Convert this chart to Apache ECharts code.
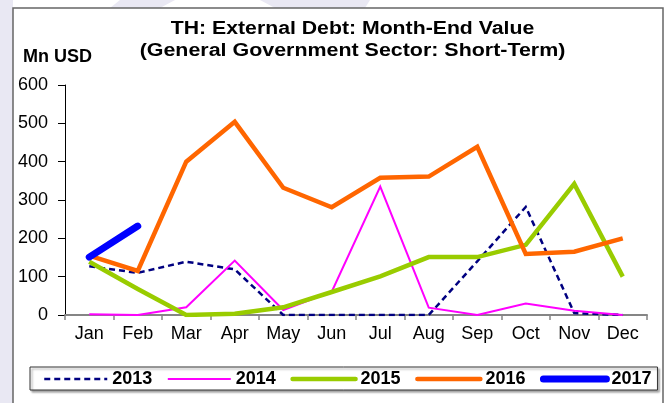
<!DOCTYPE html>
<html>
<head>
<meta charset="utf-8">
<script src="https://cdn.jsdelivr.net/npm/echarts@6/dist/echarts.min.js"></script>
<style>html,body{margin:0;padding:0;background:#fff;}#c{width:669px;height:403px;}</style>
</head>
<body>
<div id="c"></div>
<script>
const months = ['Jan','Feb','Mar','Apr','May','Jun','Jul','Aug','Sep','Oct','Nov','Dec'];
const s2013 = [127, 110, 139, 119, 0, 0, 0, 0, 140, 282, 5, 0];
const s2014 = [2, 0, 20, 142, 13, 61, 335, 19, 0, 30, 11, 0];
const s2015 = [139, 68, 0, 3, 20, 60, 101, 151, 151, 183, 342, 100];
const s2016 = [155, 115, 400, 504, 332, 281, 358, 361, 439, 159, 165, 200];
const s2017 = [151, 232];
const yTicks = [0, 100, 200, 300, 400, 500, 600];
const seriesNames = ['2013','2014','2015','2016','2017'];
const titleLine1 = 'TH: External Debt: Month-End Value';
const titleLine2 = '(General Government Sector: Short-Term)';
const unitLabel = 'Mn USD';

const styles = {
  '2013': {color:'#000080', width:2.5, type:[6,4], cap:'butt'},
  '2014': {color:'#ff00ff', width:2, type:'solid', cap:'butt'},
  '2015': {color:'#99cc00', width:4.5, type:'solid', cap:'round'},
  '2016': {color:'#ff6600', width:4.5, type:'solid', cap:'round'},
  '2017': {color:'#0000ff', width:7, type:'solid', cap:'round'}
};
const values = {'2013':s2013,'2014':s2014,'2015':s2015,'2016':s2016,'2017':s2017};

const chart = echarts.init(document.getElementById('c'), null, {renderer:'canvas'});
const font = 'Arial, "Liberation Sans", sans-serif';
function mk(name){
  const st = styles[name];
  return {name, type:'line', data:values[name], symbol:'none', showSymbol:false, animation:false,
    lineStyle:{color:st.color, width:st.width, type:st.type, cap: name==='2017' ? 'round' : 'butt', join:'miter'},
    itemStyle:{color:st.color}};
}
chart.setOption({
  backgroundColor:'#ffffff',
  animation:false,
  graphic:[
    {type:'rect', z:-10, shape:{x:0,y:0,width:13,height:403}, style:{fill:'#e9e8f3'}},
    {type:'polygon', z:-10, shape:{points:[[120,0],[175,0],[160,8],[110,8]]}, style:{fill:'#e9e8f3'}},
    {type:'polygon', z:-10, shape:{points:[[260,0],[370,0],[365,8],[275,8]]}, style:{fill:'#e9e8f3'}},
    {type:'rect', z:-9, shape:{x:13,y:8,width:650,height:400}, style:{fill:'#ffffff', stroke:'#666666', lineWidth:1.5}},
    {type:'text', x:352.5, y:29, scaleX:1.18, z:10, style:{text:titleLine1, textAlign:'center', align:'center', textVerticalAlign:'middle', verticalAlign:'middle', font:'bold 18px ' + font, fill:'#000'}},
    {type:'text', x:352.5, y:51.5, scaleX:1.19, z:10, style:{text:titleLine2, textAlign:'center', align:'center', textVerticalAlign:'middle', verticalAlign:'middle', font:'bold 18px ' + font, fill:'#000'}},
    {type:'text', x:23, y:57, z:10, style:{text:unitLabel, textAlign:'left', align:'left', textVerticalAlign:'middle', verticalAlign:'middle', font:'bold 18px ' + font, fill:'#000'}}
  ],
  grid:{left:65, right:22, top:85, bottom:88, containLabel:false},
  xAxis:{type:'category', data:months, boundaryGap:true,
    axisLine:{show:true, lineStyle:{color:'#858585', width:2}},
    axisTick:{show:true, length:5, lineStyle:{color:'#858585', width:1.5}},
    axisLabel:{color:'#000', fontSize:18, fontFamily:font, margin:10, interval:0},
    splitLine:{show:false}},
  yAxis:{type:'value', min:0, max:600, interval:100,
    axisLine:{show:true, lineStyle:{color:'#000', width:1}},
    axisTick:{show:true, length:7, lineStyle:{color:'#000', width:1}},
    axisLabel:{color:'#000', fontSize:18, fontFamily:font, margin:17,
      formatter:function(v){ return yTicks.indexOf(v) >= 0 ? String(v) : ''; }},
    splitLine:{show:false}},
  legend:{left:30, top:367, orient:'horizontal', itemWidth:63, itemHeight:14, itemGap:14.5,
    padding:[3, 6, 2, 13], borderColor:'#333', borderWidth:1, backgroundColor:'#fff',
    shadowColor:'rgba(0,0,0,0.35)', shadowOffsetX:2, shadowOffsetY:2, shadowBlur:2,
    itemStyle:{opacity:0},
    textStyle:{color:'#000', fontSize:18, fontWeight:'bold', fontFamily:font, padding:[2,0,0,0]},
    data: seriesNames.map(function(n){
      const st = styles[n];
      return {name:n, itemStyle:{opacity:0, borderWidth:0},
        lineStyle:{color:st.color, width:st.width, type:st.type, cap:st.cap, opacity:1}};
    })},
  series: seriesNames.map(mk)
});
</script>
</body>
</html>
